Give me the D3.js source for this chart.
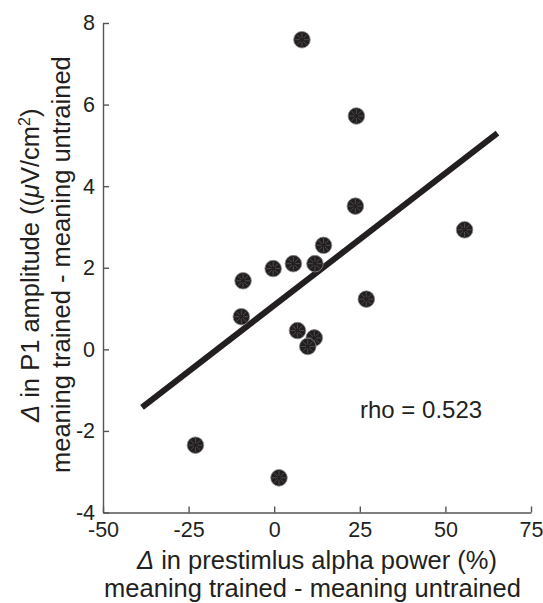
<!DOCTYPE html>
<html>
<head>
<meta charset="utf-8">
<script src="https://cdn.jsdelivr.net/npm/d3@7"></script>
<style>
  body { margin: 0; background: #fff; }
  text { font-family: "Liberation Sans", Arial, sans-serif; fill: #231f20; }
</style>
</head>
<body>
<div id="chart"></div>
<script>
// subject-level differences (trained - untrained)
const alphaPower = [8.1, 24.0, 23.7, 14.4, 55.6, -9.1, -0.3, 5.6, 11.9, -9.6, 26.9, 6.8, 11.7, 9.8, -23.0, 1.4];
const p1Amplitude = [7.59, 5.72, 3.51, 2.55, 2.93, 1.68, 1.98, 2.10, 2.10, 0.80, 1.23, 0.46, 0.28, 0.07, -2.35, -3.15];
const fitX = [-38.6, 65.2];
const fitY = [-1.42, 5.3];
const xTicks = [-50, -25, 0, 25, 50, 75];
const yTicks = [-4, -2, 0, 2, 4, 6, 8];
const rho = "rho = 0.523";

const width = 543, height = 603;
const margin = {left: 103, right: 12, top: 23, bottom: 90.5};
const ink = "#231f20";

const svg = d3.select("#chart")
              .append("svg")
              .attr("width", width)
              .attr("height", height);

const x = d3.scaleLinear()
            .domain([-50, 75])
            .range([margin.left, width - margin.right]);

const y = d3.scaleLinear()
            .domain([-4, 8])
            .range([height - margin.bottom, margin.top]);

// axes, ticks pointing inward like the original figure
const xAxis = svg.append("g")
                 .attr("transform", `translate(0, ${height - margin.bottom})`)
                 .call(d3.axisBottom(x).tickValues(xTicks).tickFormat(d => String(d))
                         .tickSizeInner(-6).tickSizeOuter(0).tickPadding(9));

const yAxis = svg.append("g")
                 .attr("transform", `translate(${margin.left}, 0)`)
                 .call(d3.axisLeft(y).tickValues(yTicks).tickFormat(d => String(d))
                         .tickSizeInner(-6).tickSizeOuter(0).tickPadding(8));

[xAxis, yAxis].forEach(g => {
    g.select(".domain").attr("stroke", "#555").attr("stroke-width", 1.4);
    g.selectAll(".tick line").attr("stroke", "#555").attr("stroke-width", 1.4);
    g.selectAll(".tick text")
     .style("font-size", "21.5px")
     .style("font-family", "Liberation Sans, Arial, sans-serif")
     .attr("fill", ink);
});

// regression line
svg.append("line")
   .attr("x1", x(fitX[0]))
   .attr("y1", y(fitY[0]))
   .attr("x2", x(fitX[1]))
   .attr("y2", y(fitY[1]))
   .attr("stroke", ink)
   .attr("stroke-width", 6);

// points
const data = alphaPower.map((d, i) => ({x: d, y: p1Amplitude[i]}));

const dots = svg.selectAll("g.dot")
                .data(data)
                .join("g")
                .attr("class", "dot")
                .attr("transform", d => `translate(${x(d.x)}, ${y(d.y)})`);

dots.append("circle")
    .attr("r", 8.3)
    .attr("fill", ink)
    .attr("stroke", "#8a8a8a")
    .attr("stroke-width", 0.8);

const spokes = d3.range(8).map(i => i * Math.PI / 4);
dots.selectAll("line")
    .data(spokes)
    .join("line")
    .attr("x1", a => 2 * Math.cos(a))
    .attr("y1", a => 2 * Math.sin(a))
    .attr("x2", a => 7 * Math.cos(a))
    .attr("y2", a => 7 * Math.sin(a))
    .attr("stroke", "#6a6a6a")
    .attr("stroke-width", 0.6);

svg.append("text")
   .attr("x", 360)
   .attr("y", 418)
   .style("font-size", "24px")
   .text(rho);

// axis titles
const xTitle = svg.append("text")
                  .attr("x", 317)
                  .attr("y", 569)
                  .attr("text-anchor", "middle")
                  .style("font-size", "25.5px");
xTitle.append("tspan").style("font-style", "italic").text("Δ");
xTitle.append("tspan").text(" in prestimlus alpha power (%)");

svg.append("text")
   .attr("x", 312.5)
   .attr("y", 597)
   .attr("text-anchor", "middle")
   .style("font-size", "25.5px")
   .text("meaning trained - meaning untrained");

const yTitle = svg.append("text")
                  .attr("transform", "translate(39, 422) rotate(-90)")
                  .style("font-size", "25.5px");
yTitle.append("tspan").style("font-style", "italic").text("Δ");
yTitle.append("tspan").text(" in P1 amplitude ((");
yTitle.append("tspan").style("font-style", "italic").text("μ");
yTitle.append("tspan").text("V/cm");
yTitle.append("tspan").attr("dy", -9).style("font-size", "16px").text("2");
yTitle.append("tspan").attr("dy", 9).text(")");

svg.append("text")
   .attr("transform", "translate(70, 473) rotate(-90)")
   .style("font-size", "25.5px")
   .text("meaning trained - meaning untrained");
</script>
</body>
</html>
